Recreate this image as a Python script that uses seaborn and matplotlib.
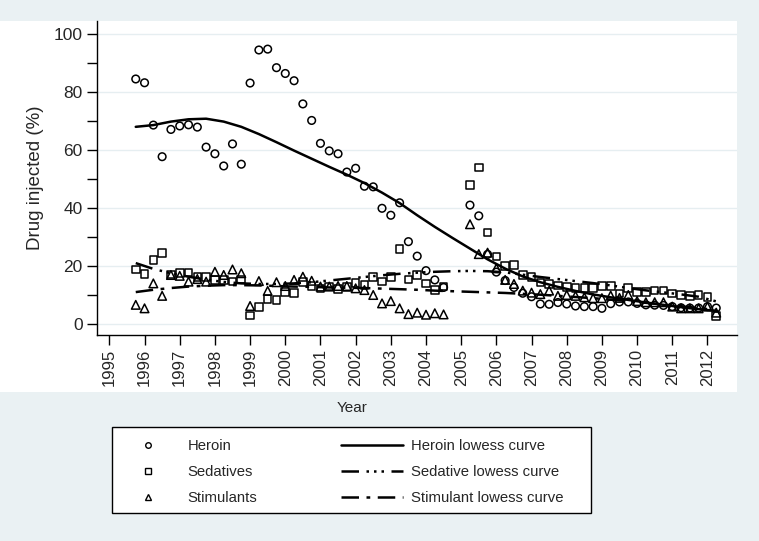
import numpy as np
import matplotlib
matplotlib.use("Agg")
import matplotlib.pyplot as plt
import seaborn as sns
from matplotlib.lines import Line2D
from matplotlib.patches import Rectangle

# quarterly survey points, 1995 Q4 .. 2012 Q1 (no data 2004 Q4 / 2005 Q1)
quarters = np.arange(1995.75, 2012.26, 0.25)

heroin = [84.5, 83.2, 68.6, 57.7, 67.1, 68.3, 68.7, 67.9, 61.0, 58.7, 54.5, 62.1,
          55.1, 83.1, 94.5, 94.8, 88.4, 86.4, 83.9, 75.9, 70.2, 62.3, 59.7, 58.7,
          52.4, 53.7, 47.5, 47.3, 39.9, 37.5, 41.8, 28.4, 23.4, 18.4, 15.2, 12.6,
          np.nan, np.nan,
          41.0, 37.3, 24.0, 17.9, 15.0, 12.6, 10.6, 9.4, 6.9, 6.8, 7.4, 6.9,
          6.2, 6.0, 6.0, 5.4, 7.0, 7.6, 7.6, 7.1, 6.6, 6.5, 6.4, 6.0,
          5.6, 5.5, 5.5, 6.0, 5.5]

sedatives = [18.8, 17.2, 22.1, 24.5, 17.0, 17.6, 17.8, 16.1, 16.1, 15.2, 15.2, 14.7,
             15.3, 2.9, 5.9, 8.6, 8.2, 11.1, 10.6, 14.4, 13.1, 12.3, 12.9, 12.1,
             12.8, 14.1, 13.4, 16.2, 14.6, 16.3, 25.9, 15.4, 16.9, 14.0, 11.7, 12.9,
             np.nan, np.nan,
             47.9, 54.0, 31.5, 23.3, 20.0, 20.3, 16.9, 16.1, 14.3, 13.8, 13.3, 12.8,
             12.5, 12.5, 12.5, 13.1, 13.1, 10.5, 12.5, 11.0, 11.0, 11.6, 11.5, 10.5,
             10.1, 9.6, 10.1, 9.3, 2.7]

stimulants = [6.6, 5.4, 14.0, 9.7, 16.9, 16.6, 14.6, 15.5, 14.6, 18.0, 16.9, 18.8,
              17.5, 6.2, 14.8, 11.4, 14.4, 13.1, 15.2, 16.3, 14.9, 12.9, 12.9, 13.1,
              13.1, 12.3, 11.7, 10.0, 7.1, 7.9, 5.4, 3.4, 3.9, 3.2, 3.7, 3.3,
              np.nan, np.nan,
              34.4, 24.1, 24.6, 19.2, 15.2, 13.8, 11.5, 10.8, 10.3, 11.5, 9.7, 10.0,
              9.7, 9.2, 8.9, 8.9, 9.8, 9.0, 10.0, 7.9, 7.5, 7.5, 7.5, 6.0,
              5.4, 5.4, 5.4, 6.0, 3.9]

# lowess curves, every half year
curve_years = np.arange(1995.75, 2012.26, 0.5)
heroin_lowess = [68.0, 68.6, 69.8, 70.6, 70.8, 69.8, 68.0, 65.5, 62.7, 59.8, 57.0, 54.2,
                 51.5, 48.6, 45.3, 41.7, 37.5, 33.5, 29.7, 26.0, 22.3, 19.1, 16.4, 14.4,
                 12.8, 11.4, 10.2, 9.2, 8.3, 7.4, 6.6, 5.8, 5.1, 4.5]
sedative_lowess = [21.0, 19.0, 17.5, 16.3, 15.3, 14.5, 14.0, 13.8, 13.8, 14.0, 14.4, 15.0,
                   15.6, 16.2, 16.8, 17.3, 17.7, 18.0, 18.2, 18.3, 18.2, 17.8, 17.0, 16.2,
                   15.5, 14.8, 14.1, 13.3, 12.4, 11.6, 10.9, 10.2, 9.4, 7.8]
stimulant_lowess = [11.0, 11.8, 12.4, 12.9, 13.2, 13.4, 13.4, 13.3, 13.1, 12.9, 12.8, 12.6,
                    12.5, 12.4, 12.2, 12.0, 11.8, 11.5, 11.3, 11.1, 10.9, 10.7, 10.4, 10.1,
                    9.7, 9.3, 8.9, 8.4, 7.9, 7.3, 6.7, 6.1, 5.5, 4.8]

year_ticks = list(range(1995, 2013))
pct_ticks = [0, 20, 40, 60, 80, 100]

BG = '#EAF1F3'
W, H = 759, 541

sns.set_theme(style="white")
plt.rcParams['font.family'] = ['Liberation Sans', 'DejaVu Sans']

fig = plt.figure(figsize=(W / 100, H / 100), dpi=100, facecolor=BG)
# white panel behind plot and tick labels
fig.patches.append(Rectangle((0, 1 - 392 / H), 737 / W, (392 - 21) / H,
                             transform=fig.transFigure, facecolor='white',
                             edgecolor='none', zorder=-10))

ax = fig.add_axes([96.7 / W, 1 - 335 / H, (737 - 96.7) / W, (335 - 21) / H])
ax.set_facecolor('white')

dash_sed = (0, (7, 3, 1, 2, 1, 2, 1, 3))
dash_stim = (0, (7, 3, 1.5, 3))

sns.lineplot(x=curve_years, y=heroin_lowess, color='black', lw=1.8, ax=ax)
sns.lineplot(x=curve_years, y=sedative_lowess, color='black', lw=1.8, ls=dash_sed, ax=ax)
sns.lineplot(x=curve_years, y=stimulant_lowess, color='black', lw=1.8, ls=dash_stim, ax=ax)

sns.scatterplot(x=quarters, y=heroin, marker='o', s=30, facecolor='none',
                edgecolor='black', linewidth=1.1, ax=ax, zorder=3)
sns.scatterplot(x=quarters, y=sedatives, marker='s', s=30, facecolor='none',
                edgecolor='black', linewidth=1.1, ax=ax, zorder=3)
sns.scatterplot(x=quarters, y=stimulants, marker='^', s=38, facecolor='none',
                edgecolor='black', linewidth=1.1, ax=ax, zorder=3)

ax.set_xlim(1994.64, 2012.84)
ax.set_ylim(-3.8, 104.5)
ax.set_xticks(year_ticks)
ax.set_xticklabels([str(y) for y in year_ticks], rotation=90, fontsize=12)
ax.set_yticks(pct_ticks)
ax.set_yticklabels([str(v) for v in pct_ticks], fontsize=12.5)
ax.set_yticks([10, 30, 50, 70, 90], minor=True)
ax.tick_params(axis='both', which='both', direction='out', length=7, width=1,
               color='black', left=True, bottom=True)
ax.tick_params(axis='y', pad=3)
ax.tick_params(axis='x', pad=3)

ax.grid(axis='y', which='major', color='#E6EEF1', lw=1)
ax.set_axisbelow(True)
for side in ['top', 'right']:
    ax.spines[side].set_visible(False)
for side in ['left', 'bottom']:
    ax.spines[side].set_color('black')
    ax.spines[side].set_linewidth(1)

ax.set_xlabel('')
ax.set_ylabel('Drug injected (%)', fontsize=13.5, labelpad=7)
fig.text(352 / W, 1 - 408 / H, 'Year', ha='center', va='center', fontsize=11)

# legend box
fig.patches.append(Rectangle((112 / W, 1 - 513 / H), 479 / W, 86 / H,
                             transform=fig.transFigure, facecolor='white',
                             edgecolor='black', lw=1, zorder=1))
handles = [
    Line2D([], [], marker='o', ls='none', mfc='none', mec='black', ms=4, mew=1),
    Line2D([], [], marker='s', ls='none', mfc='none', mec='black', ms=4, mew=1),
    Line2D([], [], marker='^', ls='none', mfc='none', mec='black', ms=4.5, mew=1),
    Line2D([], [], color='black', lw=1.8),
    Line2D([], [], color='black', lw=1.8, ls=dash_sed),
    Line2D([], [], color='black', lw=1.8, ls=dash_stim),
]
labels = ['Heroin', 'Sedatives', 'Stimulants',
          'Heroin lowess curve', 'Sedative lowess curve', 'Stimulant lowess curve']
fig.legend(handles, labels, ncol=2, frameon=False, fontsize=10.7,
           loc='upper left', bbox_to_anchor=(117 / W, 1 - 439 / H),
           borderpad=0, borderaxespad=0, handlelength=4.2, handletextpad=0.55,
           columnspacing=5.6, labelspacing=0.82)

fig.savefig('out.png', dpi=100, facecolor=BG)
